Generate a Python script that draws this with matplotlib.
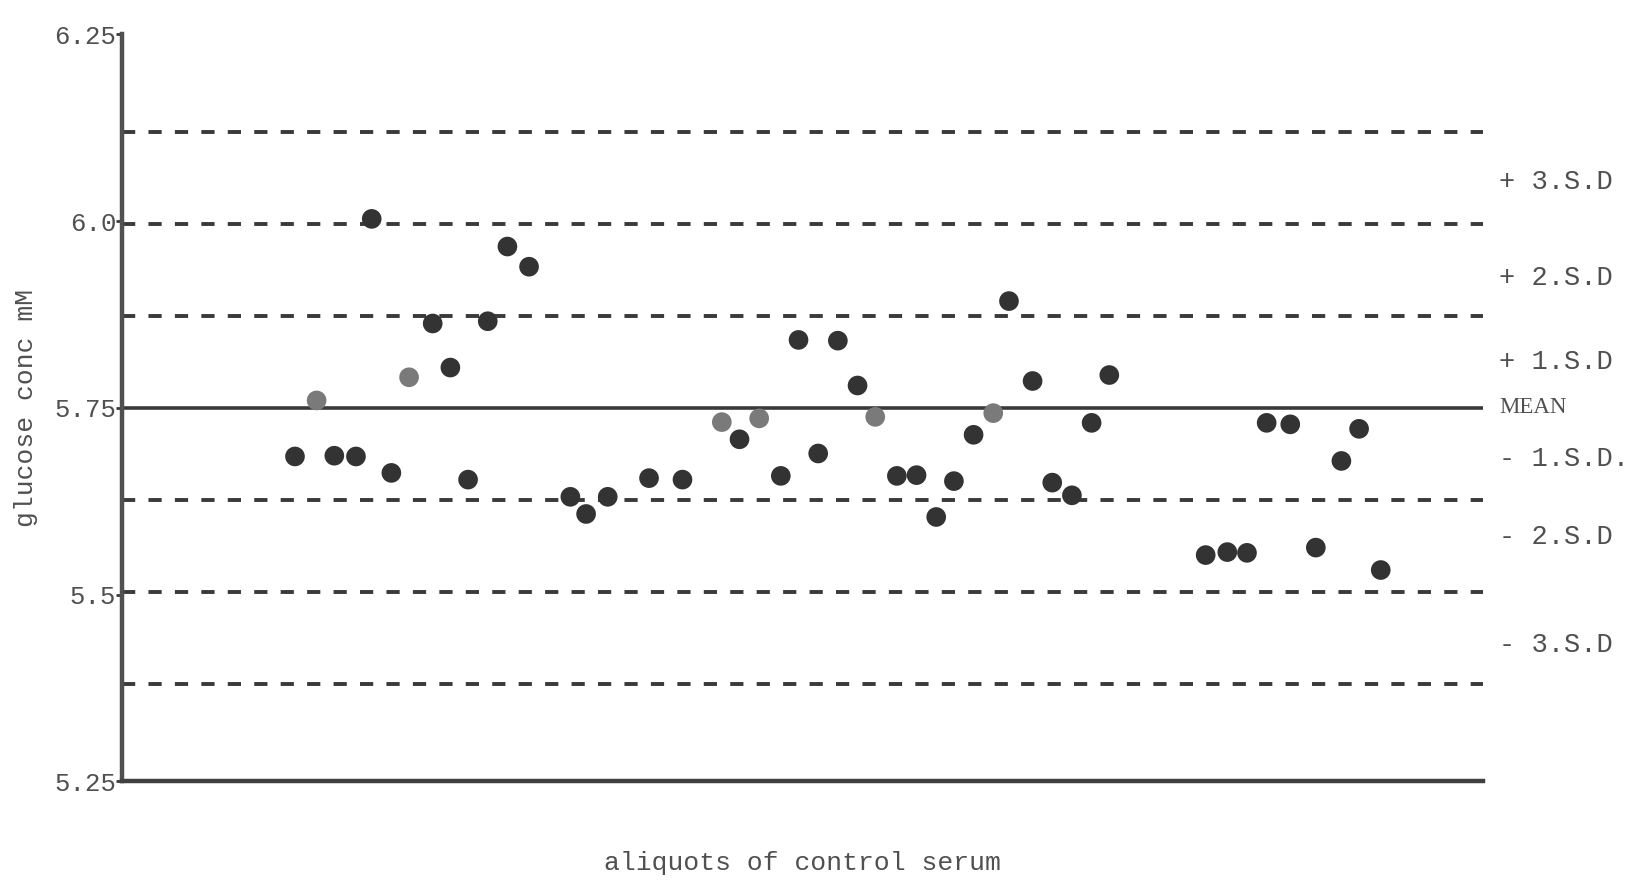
import numpy as np
import matplotlib.pyplot as plt

# aliquot position and glucose conc (mM)
aliquot = [1.0, 2.1, 3.0, 4.1, 4.9, 5.9, 6.8, 8.0, 8.9, 9.8, 10.8, 11.8, 12.9,
           15.0, 15.8, 16.9, 19.0, 20.7, 22.7, 23.6, 24.6, 25.7, 26.6, 27.6,
           28.6, 29.6, 30.5, 31.6, 32.6, 33.6, 34.5, 35.5, 36.5, 37.3, 38.5,
           39.5, 40.5, 41.5, 42.4, 47.3, 48.4, 49.4, 50.4, 51.6, 52.9, 54.2,
           55.1, 56.2]
glucose = [5.685, 5.760, 5.686, 5.685, 6.003, 5.663, 5.791, 5.863, 5.804,
           5.654, 5.866, 5.966, 5.939, 5.631, 5.608, 5.631, 5.656, 5.654,
           5.731, 5.708, 5.736, 5.659, 5.841, 5.689, 5.840, 5.780, 5.738,
           5.659, 5.660, 5.604, 5.652, 5.714, 5.743, 5.893, 5.786, 5.650,
           5.633, 5.730, 5.794, 5.553, 5.557, 5.556, 5.730, 5.728, 5.563,
           5.679, 5.722, 5.533]
# lighter (stippled) dots
pale = [1, 6, 18, 20, 26, 32]

mean = 5.75
sd = 0.123
sd_steps = [3, 2, 1, -1, -2, -3]
sd_labels = ['+ 3.S.D', '+ 2.S.D', '+ 1.S.D', 'MEAN', '- 1.S.D.', '- 2.S.D', '- 3.S.D']
label_y = [6.052, 5.924, 5.812, 5.75, 5.682, 5.577, 5.432]

yticks = [5.25, 5.5, 5.75, 6.0, 6.25]
ytick_labels = ['5.25', '5.5', '5.75', '6.0', '6.25']

ink = '#3a3a3a'
txt = '#505050'
mono = 'Liberation Mono'

fig = plt.figure(figsize=(16.34, 8.81), dpi=100)
ax = fig.add_axes([0.0746, 0.113, 0.833, 0.848])
ax.set_xlim(-7.8, 61.4)
ax.set_ylim(5.25, 6.25)

ax.axhline(mean, color=ink, linewidth=2.6, zorder=1)
for k in sd_steps:
    ax.axhline(mean + k * sd, color=ink, linewidth=2.8, linestyle=(0, (3.4, 3.4)), zorder=1)

cols = [('#7a7a7a' if i in pale else '#333333') for i in range(len(glucose))]
ax.scatter(aliquot, glucose, s=200, c=cols, edgecolors='none', zorder=3)

for t, yv in zip(sd_labels, label_y):
    if t == 'MEAN':
        ax.text(1.012, yv - 5.25, t, transform=ax.transAxes, ha='left', va='center',
                fontsize=16.5, family='Liberation Serif', color=txt)
    else:
        ax.text(1.012, yv - 5.25, t, transform=ax.transAxes, ha='left', va='center',
                fontsize=19.5, family=mono, color=txt)

ax.set_yticks(yticks)
ax.set_yticklabels(ytick_labels, family=mono, fontsize=18.5, color=txt)
ax.tick_params(axis='y', length=4, width=2, color=ink, pad=0)
ax.set_xticks([])

for s in ['top', 'right']:
    ax.spines[s].set_visible(False)
ax.spines['left'].set_linewidth(3.2)
ax.spines['left'].set_color('#505050')
ax.spines['bottom'].set_linewidth(3.2)
ax.spines['bottom'].set_color('#404040')

ax.set_ylabel('glucose conc mM', family=mono, fontsize=19, color=txt, labelpad=12)
ax.set_xlabel('aliquots of control serum', family=mono, fontsize=19, color=txt, labelpad=50)

fig.savefig('out.png', dpi=100, facecolor='white')
